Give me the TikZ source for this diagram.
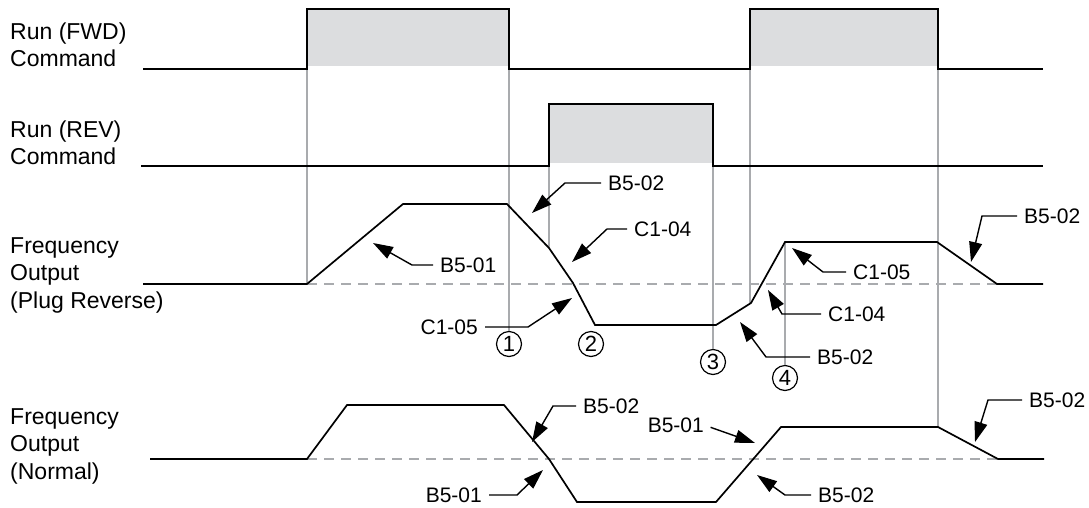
\documentclass[tikz,border=0pt]{standalone}
\usepackage{fontspec}
\setmainfont{Liberation Sans}
\usetikzlibrary{arrows.meta}
\definecolor{pulsegray}{HTML}{DCDDDF}
\definecolor{guidegray}{HTML}{A9ABAE}

\tikzset{
  signal/.style={line width=1.7pt, line join=miter},
  guide/.style={guidegray, line width=1.2pt},
  zeroline/.style={guidegray, line width=1.3pt, dash pattern=on 10pt off 7pt},
  leader/.style={line width=1.4pt, shorten <=7pt, -{Triangle[length=20pt,width=13pt]}},
  rowlabel/.style={anchor=west, align=left, inner sep=0pt, font=\fontsize{23}{27.5}\selectfont},
  param/.style={inner sep=0pt, font=\fontsize{21}{21}\selectfont},
  stepnum/.style={circle, draw, line width=1.2pt, minimum size=25pt, inner sep=0pt, font=\fontsize{22}{22}\selectfont},
}

\begin{document}
\begin{tikzpicture}[x=1pt, y=-1pt]
\useasboundingbox (0,0) rectangle (1089,507);

% row titles
\node[rowlabel] (fwdtitle) at (10,45) {Run (FWD)\\Command};
\node[rowlabel] (revtitle) at (10,143) {Run (REV)\\Command};
\node[rowlabel] (plugtitle) at (10,275) {Frequency\\Output\\(Plug Reverse)};
\node[rowlabel] (normtitle) at (10,446) {Frequency\\Output\\(Normal)};

% run command pulses
\fill[pulsegray] (307,9) rectangle (509,66);
\fill[pulsegray] (750,9) rectangle (938,66);
\fill[pulsegray] (549,104) rectangle (713,163);

% step markers
\node[stepnum] (c1) at (509,344) {1};
\node[stepnum] (c2) at (591,344) {2};
\node[stepnum] (c3) at (713,362) {3};
\node[stepnum] (c4) at (785,378) {4};

% timing guides
\draw[guide] (307,69) -- (307,284);
\draw[guide] (509,69) -- (c1.north);
\draw[guide] (549,166) -- (549,248);
\draw[guide] (713,166) -- (c3.north);
\draw[guide] (750,69) -- (750,303);
\draw[guide] (785,242) -- (c4.north);
\draw[guide] (938,69) -- (938,427);

% zero speed
\draw[zeroline] (307,284) -- (1000,284);
\draw[zeroline] (307,459) -- (1000,459);

% signals
\draw[signal] (143,69) -- (307,69) -- (307,9) -- (509,9) -- (509,69) -- (750,69)
  -- (750,9) -- (938,9) -- (938,69) -- (1043,69);
\draw[signal] (141,166) -- (549,166) -- (549,104) -- (713,104) -- (713,166) -- (1043,166);
\draw[signal] (143,284) -- (307,284) -- (403,204) -- (507,204) -- (549,248) -- (573,283)
  -- (595,325) -- (716,325) -- (751,303) -- (785,242) -- (937,242) -- (997,284) -- (1043,284);
\draw[signal] (150,459) -- (307,459) -- (347,405) -- (504,405) -- (549,459) -- (577,502)
  -- (716,502) -- (781,427) -- (938,427) -- (998,459) -- (1044,459);

% arrow targets
\coordinate (tipa) at (373,243);
\coordinate (tipb) at (572,298);
\coordinate (tipc) at (532,213);
\coordinate (tipd) at (572,262);
\coordinate (tipe) at (792,248);
\coordinate (tipf) at (768,290);
\coordinate (tipg) at (740,322);
\coordinate (tiph) at (971,262);
\coordinate (tipi) at (532,442);
\coordinate (tipj) at (543,470);
\coordinate (tipk) at (755,443);
\coordinate (tipl) at (757,475);
\coordinate (tipm) at (975,442);

% plug reverse parameters
\node[param, anchor=west] (accfwd) at (440,265) {B5-01};
\node[param, anchor=east] (decrev) at (478,327) {C1-05};
\node[param, anchor=west] (pidup) at (608,183) {B5-02};
\node[param, anchor=west] (decfwd) at (634,229) {C1-04};
\node[param, anchor=west] (accrev) at (853,272) {C1-05};
\node[param, anchor=west] (accfwd2) at (828,314) {C1-04};
\node[param, anchor=west] (piddn) at (817,357) {B5-02};
\node[param, anchor=west] (pidend) at (1024,216) {B5-02};
\draw[leader] (accfwd.west) -- ++(-28,0) -- (tipa);
\draw[leader] (decrev.east) -- ++(50,0) -- (tipb);
\draw[leader] (pidup.west) -- ++(-43,0) -- (tipc);
\draw[leader] (decfwd.west) -- ++(-27,0) -- (tipd);
\draw[leader] (accrev.west) -- ++(-30,0) -- (tipe);
\draw[leader] (accfwd2.west) -- ++(-46,0) -- (tipf);
\draw[leader] (piddn.west) -- ++(-51,0) -- (tipg);
\draw[leader] (pidend.west) -- ++(-42,0) -- (tiph);

% normal parameters
\node[param, anchor=west] (nfall) at (583,406) {B5-02};
\node[param, anchor=east] (nfall2) at (482,495) {B5-01};
\node[param, anchor=east] (nrise) at (704,425) {B5-01};
\node[param, anchor=west] (nrise2) at (818,495) {B5-02};
\node[param, anchor=west] (nend) at (1029,400) {B5-02};
\draw[leader] (nfall.west) -- ++(-30,0) -- (tipi);
\draw[leader] (nfall2.east) -- ++(35,0) -- (tipj);
\draw[leader] (nrise.east) -- (tipk);
\draw[leader] (nrise2.west) -- ++(-33,0) -- (tipl);
\draw[leader] (nend.west) -- ++(-41,0) -- (tipm);
\end{tikzpicture}
\end{document}
